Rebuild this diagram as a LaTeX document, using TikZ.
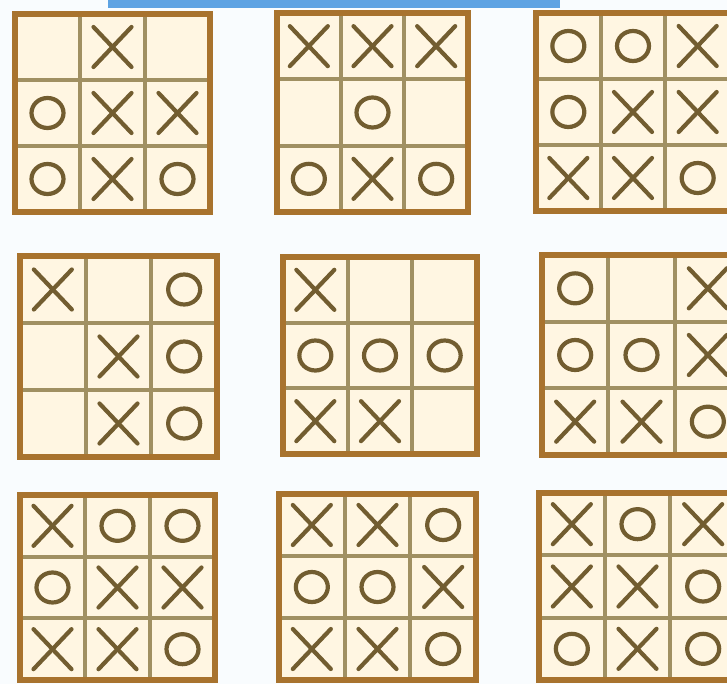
\documentclass[tikz,border=0pt]{standalone}
\definecolor{frameC}{HTML}{A8732E}
\definecolor{gridC}{HTML}{A09062}
\definecolor{markC}{HTML}{725D30}
\definecolor{cellC}{HTML}{FFF6E2}
\definecolor{bgC}{HTML}{F9FCFE}
\definecolor{stripC}{HTML}{5EA3E3}
\tikzset{
  frameline/.style={draw=frameC, line width=6pt},
  gridline/.style={draw=gridC, line width=4pt},
  markline/.style={draw=markC, line width=4.2pt, line cap=round},
}
\newcommand\ttboard[5]{%
  \fill[cellC] (#1,#2) rectangle (#3,#4);
  \pgfmathsetmacro\tcw{(#3-#1)/3}%
  \pgfmathsetmacro\tch{(#4-#2)/3}%
  \draw[gridline] ({#1+\tcw},#2) -- ({#1+\tcw},#4);
  \draw[gridline] ({#1+2*\tcw},#2) -- ({#1+2*\tcw},#4);
  \draw[gridline] (#1,{#2+\tch}) -- (#3,{#2+\tch});
  \draw[gridline] (#1,{#2+2*\tch}) -- (#3,{#2+2*\tch});
  \draw[frameline] (#1,#2) rectangle (#3,#4);
  \foreach \m [count=\i from 0] in {#5} {
    \pgfmathtruncatemacro\tr{int(\i/3)}%
    \pgfmathtruncatemacro\tc{mod(\i,3)}%
    \pgfmathsetmacro\tx{#1+(\tc+0.5)*\tcw}%
    \pgfmathsetmacro\ty{#2+(\tr+0.5)*\tch}%
    \ifnum\m=1
      \draw[markline] ({\tx-19},{\ty-20}) -- ({\tx+19},{\ty+20});
      \draw[markline] ({\tx+19},{\ty-20}) -- ({\tx-19},{\ty+20});
    \fi
    \ifnum\m=2
      \draw[markline] (\tx,\ty) ellipse [x radius=16, y radius=15];
    \fi
  }
}
\begin{document}
\begin{tikzpicture}[x=1pt,y=-1pt]
  \useasboundingbox (0,0) rectangle (727,684);
  \clip (0,0) rectangle (727,684);
  \fill[bgC] (0,0) rectangle (727,684);
  \fill[stripC] (108,0) rectangle (560,8);
  % row 1
  \ttboard{15}{14}{210}{212}{0,1,0,2,1,1,2,1,2}
  \ttboard{277}{13}{468}{212}{1,1,1,0,2,0,2,1,2}
  \ttboard{536}{13}{730}{211}{2,2,1,2,1,1,1,1,2}
  % row 2
  \ttboard{20}{256}{217}{457}{1,0,2,0,1,2,0,1,2}
  \ttboard{283}{257}{477}{454}{1,0,0,2,2,2,1,1,0}
  \ttboard{542}{255}{741}{455}{2,0,1,2,2,1,1,1,2}
  % row 3
  \ttboard{20}{495}{215}{680}{1,2,2,2,1,1,1,1,2}
  \ttboard{279}{494}{476}{680}{1,1,2,2,2,1,1,1,2}
  \ttboard{539}{493}{736}{680}{1,2,1,1,1,2,2,1,2}
\end{tikzpicture}
\end{document}
